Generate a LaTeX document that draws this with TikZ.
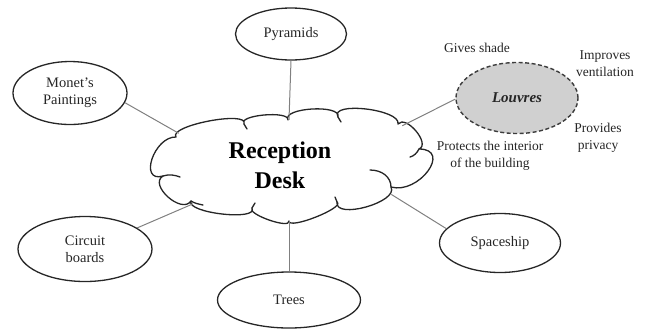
\documentclass[tikz,border=0pt]{standalone}
\usepackage{fontspec}
\setmainfont{Liberation Serif}
\usetikzlibrary{shapes.geometric,calc}
\definecolor{ink}{HTML}{262626}
\definecolor{conn}{HTML}{808080}
\definecolor{lougray}{HTML}{D0D0D0}
\begin{document}
\begin{tikzpicture}[x=1pt,y=-1pt,
  topic/.style={ellipse,draw=ink,line width=1.3pt,inner sep=0pt,align=center,
    font=\fontsize{14.5}{17}\selectfont,text=ink},
  lbl/.style={align=center,font=\fontsize{13.5}{17}\selectfont,text=ink,inner sep=0pt},
  link/.style={draw=conn,line width=1pt},
  cloudline/.style={draw=ink,line width=1.3pt,line join=round,line cap=round}]
\useasboundingbox (0,0) rectangle (646,333);
% invisible reference ellipse of the cloud (for anchors)
\node[ellipse,minimum width=278pt,minimum height=110pt,inner sep=0pt] (cloud) at (289,167) {};
% cloud outline
\filldraw[cloudline,fill=white] (176,137)
  .. controls (167.85,125.62) and (249.45,110.02) .. (244,124)
  .. controls (236.92,115.06) and (289.72,110.26) .. (288,120)
  .. controls (281.65,107.63) and (341.65,104.03) .. (338,117)
  .. controls (329.31,100.96) and (401.31,109.36) .. (398,124)
  .. controls (405.86,114.15) and (431.06,144.15) .. (419,149)
  .. controls (452.43,149.19) and (418.83,194.79) .. (391,187)
  .. controls (399.04,202.16) and (334.24,220.16) .. (337,202)
  .. controls (345.77,207.42) and (288.17,230.22) .. (289,221)
  .. controls (290.67,229.62) and (246.27,214.02) .. (252,208)
  .. controls (258.75,221.35) and (185.55,212.95) .. (191,201)
  .. controls (181.79,214.81) and (148.19,184.81) .. (163,176)
  .. controls (138.35,183.22) and (153.95,136.42) .. (176,137) -- cycle;
% inner curls of the cloud
\draw[cloudline] (391,187) .. controls (391,177) and (382,170) .. (370,170);
\draw[cloudline] (419,149) .. controls (417,153) and (414,156) .. (410,157);
\draw[cloudline] (163,176) .. controls (169,174) and (175,175) .. (180,177);
\draw[cloudline] (191,201) .. controls (194,203) and (198,204) .. (203,205);
\draw[cloudline] (244,124) .. controls (246,126) .. (247,129);
\draw[cloudline] (338,117) .. controls (340,119) .. (341,122);
\draw[cloudline] (337,202) .. controls (336,199) .. (335,197);
\draw[cloudline] (252,208) .. controls (253,205) .. (255,203);
\node[align=center,font=\bfseries\fontsize{24}{30}\selectfont,text=black,inner sep=0pt]
  (rd) at (280,165) {Reception\\Desk};
% topics
\node[topic,minimum width=111pt,minimum height=52pt] (pyr) at (291,34) {Pyramids};
\node[topic,minimum width=114pt,minimum height=63pt] (mon) at (70,93) {Monet’s\\Paintings};
\node[topic,minimum width=134pt,minimum height=65pt] (cir) at (85,249) {Circuit\\boards};
\node[topic,minimum width=143pt,minimum height=56pt] (tre) at (289,300) {Trees};
\node[topic,minimum width=121pt,minimum height=59pt] (spa) at (500,243) {Spaceship};
\node[ellipse,draw=ink!90,fill=lougray,line width=1.4pt,dash pattern=on 4pt off 2.5pt,
  minimum width=122pt,minimum height=71pt,inner sep=0pt,
  font=\bfseries\itshape\fontsize{15}{17}\selectfont,text=ink] (lou) at (517,98) {Louvres};
\node[lbl] (gs) at (477,48) {Gives shade};
\node[lbl] (iv) at (605,64) {Improves\\ventilation};
\node[lbl] (pp) at (598,138) {Provides\\privacy};
\node[lbl] (pi) at (490,156) {Protects the interior\\of the building};
% connectors
\draw[link] (pyr.south) -- ($(cloud.center)!0.855!(cloud.90)$);
\draw[link] (mon.-10) -- (cloud.163);
\draw[link] (cir.22) -- ($(cloud.center)!0.96!(cloud.201)$);
\draw[link] (tre.north) -- ($(cloud.center)!0.98!(cloud.270)$);
\draw[link] (spa.165) -- ($(cloud.center)!0.887!(cloud.-15.5)$);
\draw[link] (lou.181) -- ($(cloud.center)!1.105!(cloud.20.7)$);
\end{tikzpicture}
\end{document}
